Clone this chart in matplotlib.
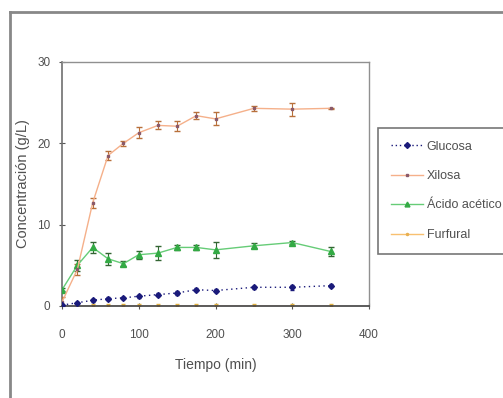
import matplotlib
matplotlib.use("Agg")
import matplotlib.pyplot as plt
from matplotlib.lines import Line2D

plt.rcParams['font.family'] = ['Liberation Sans', 'DejaVu Sans']

tiempo = [0, 20, 40, 60, 80, 100, 125, 150, 175, 200, 250, 300, 350]
glucosa = [0.1, 0.4, 0.7, 0.9, 1.0, 1.2, 1.4, 1.6, 2.0, 1.9, 2.3, 2.3, 2.5]
glucosa_err = [0.1, 0.15, 0.15, 0.2, 0.15, 0.2, 0.15, 0.2, 0.2, 0.2, 0.2, 0.3, 0.2]
xilosa = [0.5, 4.5, 12.7, 18.5, 20.0, 21.3, 22.2, 22.1, 23.4, 23.0, 24.3, 24.2, 24.3]
xilosa_err = [0.6, 0.7, 0.6, 0.6, 0.3, 0.7, 0.5, 0.6, 0.4, 0.8, 0.3, 0.8, 0.1]
acetico = [2.0, 5.0, 7.2, 5.8, 5.2, 6.3, 6.5, 7.2, 7.2, 6.9, 7.4, 7.8, 6.7]
acetico_err = [0.2, 0.7, 0.7, 0.7, 0.3, 0.5, 0.9, 0.3, 0.3, 1.0, 0.3, 0.2, 0.5]
furfural = [0.05, 0.05, 0.05, 0.05, 0.05, 0.05, 0.05, 0.05, 0.05, 0.05, 0.05, 0.05, 0.05]
furfural_err = [0.2, 0.2, 0.2, 0.2, 0.2, 0.2, 0.2, 0.2, 0.2, 0.2, 0.2, 0.2, 0.2]

labels = ['Glucosa', 'Xilosa', 'Ácido acético', 'Furfural']
xticks = [0, 100, 200, 300, 400]
yticks = [0, 10, 20, 30]

fig = plt.figure(figsize=(5.03, 3.98), dpi=100)
fig.patch.set_facecolor('white')
ax = fig.add_axes([0.1233, 0.2312, 0.6103, 0.6131])

c_glu = '#1a1a7a'
c_xil_line = '#f5b08a'
c_xil_mk = '#8a5a6a'
c_xil_err = '#b8703a'
c_ace = '#33aa44'
c_ace_line = '#66cc77'
c_fur = '#f8c070'
txt = '#505050'

ax.errorbar(tiempo, furfural, yerr=furfural_err, color=c_fur, ecolor='#e0b040', lw=1.0,
            marker='o', ms=1.5, mfc='#e8b050', mec='#e8b050', capsize=1.5, elinewidth=0.8, zorder=2)
ax.errorbar(tiempo, acetico, yerr=acetico_err, color=c_ace_line, ecolor='#336633', lw=1.0,
            marker='^', ms=4, mfc=c_ace, mec=c_ace, capsize=2, elinewidth=0.8, zorder=3)
ax.errorbar(tiempo, xilosa, yerr=xilosa_err, color=c_xil_line, ecolor=c_xil_err, lw=1.0,
            marker='s', ms=2, mfc=c_xil_mk, mec=c_xil_mk, capsize=2, elinewidth=0.8, zorder=3)
ax.errorbar(tiempo, glucosa, yerr=glucosa_err, color=c_glu, ecolor=c_glu, lw=1.0, ls=(0, (1, 2.5)),
            marker='D', ms=3, mfc=c_glu, mec=c_glu, capsize=1.5, elinewidth=0.8, zorder=4)

ax.set_xlim(0, 400)
ax.set_ylim(0, 30)
ax.set_xticks(xticks)
ax.set_yticks(yticks)
for s in ['top', 'right']:
    ax.spines[s].set_color('#909090')
    ax.spines[s].set_linewidth(1.0)
ax.spines['left'].set_color('#707070')
ax.spines['bottom'].set_color('#404040')
ax.spines['left'].set_linewidth(1.2)
ax.spines['bottom'].set_linewidth(1.2)
ax.tick_params(axis='both', direction='inout', length=5, width=0.8, colors='#555555',
               labelsize=8.5, labelcolor=txt)
ax.tick_params(axis='x', pad=14)
ax.tick_params(axis='y', pad=6)
ax.set_xlabel('Tiempo (min)', fontsize=10, color=txt, labelpad=12)
ax.set_ylabel('Concentración (g/L)', fontsize=10.5, color=txt, labelpad=5)

handles = [
    Line2D([], [], color=c_glu, ls=(0, (1, 2)), marker='D', ms=3, lw=1.0),
    Line2D([], [], color=c_xil_line, marker='s', ms=2, mfc=c_xil_mk, mec=c_xil_mk, lw=1.0),
    Line2D([], [], color=c_ace_line, marker='^', ms=3.5, mfc=c_ace, mec=c_ace, lw=1.0),
    Line2D([], [], color=c_fur, marker='o', ms=1.5, mfc='#e8b050', mec='#e8b050', lw=1.0),
]
leg = fig.legend(handles, labels, loc='upper left', bbox_to_anchor=(378 / 503, 1 - 128 / 398),
                 fontsize=9, frameon=True, fancybox=False, handlelength=2.6, handletextpad=0.3,
                 labelspacing=1.4, borderpad=1.0, borderaxespad=0, labelcolor=txt)
leg.get_frame().set_edgecolor('#555555')
leg.get_frame().set_linewidth(1.2)

# outer frame lines (top and left)
fig.add_artist(Line2D([10 / 503, 10 / 503], [0, 1 - 12 / 398], transform=fig.transFigure,
                      color='#888888', lw=2.0))
fig.add_artist(Line2D([10 / 503, 1], [1 - 12 / 398, 1 - 12 / 398], transform=fig.transFigure,
                      color='#888888', lw=2.0))

fig.savefig('out.png', dpi=100)
